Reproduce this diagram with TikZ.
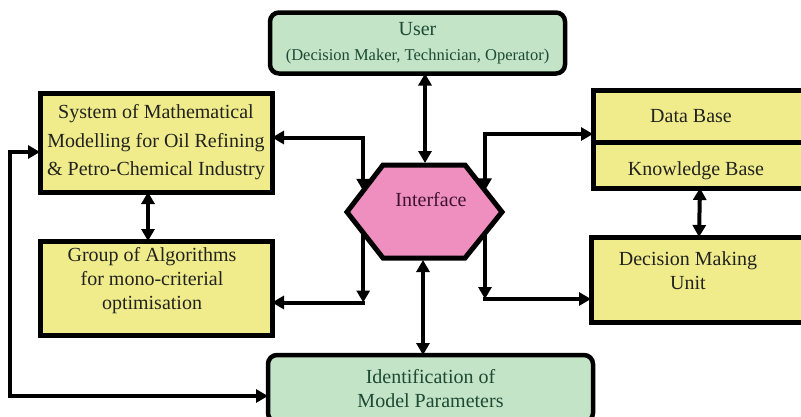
\documentclass[tikz,border=0pt]{standalone}
\usepackage{fontspec}
\setmainfont{Liberation Serif}
\usetikzlibrary{positioning, arrows.meta, calc}
\definecolor{boxyellow}{RGB}{240,236,140}
\definecolor{boxgreen}{RGB}{196,228,200}
\definecolor{boxpink}{RGB}{238,143,192}
\definecolor{darkgreen}{RGB}{28,74,50}
\definecolor{darkplum}{RGB}{62,18,48}
\definecolor{inkgrey}{RGB}{34,34,30}

\begin{document}
\begin{tikzpicture}[x=1pt, y=-1pt, >={Triangle[length=12pt,width=13pt]}]
        \tikzset{ybox/.style={draw, line width=5pt, fill=boxyellow, outer sep=0pt, inner sep=0pt, align=center, text=inkgrey, font=\fontsize{20}{24}\selectfont}}
        \tikzset{gbox/.style={draw, line width=4.5pt, fill=boxgreen, rounded corners=9pt, outer sep=0pt, inner sep=0pt, align=center, text=darkgreen, font=\fontsize{20}{24}\selectfont}}
        \tikzset{txt/.style={align=center, text=inkgrey, font=\fontsize{20}{24}\selectfont}}
        \tikzset{link/.style={line width=4pt}}
        \useasboundingbox (0,0) rectangle (801,416);
        \clip (0,0) rectangle (801,416);

        % boxes
        \node[gbox, minimum width=295, minimum height=61] (user) at (417.5,43) {User\\[1pt]{\fontsize{16.5}{18}\selectfont (Decision Maker, Technician, Operator)}};
        \node[ybox, minimum width=232, minimum height=99, font=\fontsize{20}{28.5}\selectfont] (sys) at (156,142.5) {System of Mathematical\\Modelling for Oil Refining\\\& Petro-Chemical Industry};
        \node[ybox, minimum width=232, minimum height=94, below=49pt of sys,
              label={[txt, yshift=7pt, xshift=-4pt]center:Group of Algorithms\\for mono-criterial\\optimisation}] (grp) {};
        \node[ybox, minimum width=222, minimum height=52, anchor=north west,
              label={[txt, xshift=-13pt]center:Data Base}] (db) at (593,90) {};
        \node[ybox, minimum width=222, minimum height=46, below=0pt of db,
              label={[txt, xshift=-8pt, yshift=-6pt]center:Knowledge Base}] (kb) {};
        \node[ybox, minimum width=224, minimum height=85, anchor=north west,
              label={[txt, xshift=-15pt, yshift=9pt]center:Decision Making\\Unit}] (dmu) at (591,237) {};
        \node[gbox, minimum width=325, minimum height=67] (ident) at (430.5,388.5) {Identification of\\Model Parameters};

        % interface hexagon
        \coordinate (hw) at (347,212);
        \coordinate (hnw) at (383,165);
        \coordinate (hne) at (465,165);
        \coordinate (he) at (502,212);
        \coordinate (hse) at (465,258);
        \coordinate (hsw) at (383,258);
        \draw[line width=5pt, fill=boxpink, line join=miter] (hw) -- (hnw) -- (hne) -- (he) -- (hse) -- (hsw) -- cycle;
        \node[txt, text=darkplum] (iface) at (431,200) {Interface};

        \coordinate (hlt) at ($(hw)!0.45!(hnw)$);
        \coordinate (hrt) at ($(he)!0.46!(hne)$);
        \coordinate (hlb) at ($(hw)!0.45!(hsw)$);
        \coordinate (hrb) at ($(he)!0.46!(hse)$);
        \coordinate (htop) at (425,163);
        \coordinate (hbot) at (423,260);
        \coordinate (gin) at ([yshift=-14.5pt]grp.east);
        \coordinate (din) at ([yshift=-19.5pt]dmu.west);
        \coordinate (lp) at (10,270);

        % connectors
        \draw[link,<->] (user.south -| htop) -- (htop);
        \draw[link,<->] ([yshift=5pt]sys.east) -| (hlt);
        \draw[link,<->] (hrt) |- ([yshift=-18pt]db.west);
        \draw[link,<->] ([xshift=-4pt]kb.south) -- ([xshift=-4pt]dmu.north);
        \draw[link,<->] ([xshift=-8pt]sys.south) -- ([xshift=-8pt]grp.north);
        \draw[link,->] (hlb) -- (hlb |- gin);
        \draw[link,->] ([xshift=2pt]hlb |- gin) -- (gin);
        \draw[link,->] (hrb) -- (hrb |- din);
        \draw[link,->] ([xshift=-2pt]hrb |- din) -- (din);
        \draw[link,<->] (hbot) -- (hbot |- ident.north);
        \draw[link,<->] ([yshift=-7.5pt]ident.west) -| (lp) |- ([yshift=-9.5pt]sys.west);
    \end{tikzpicture}
\end{document}
